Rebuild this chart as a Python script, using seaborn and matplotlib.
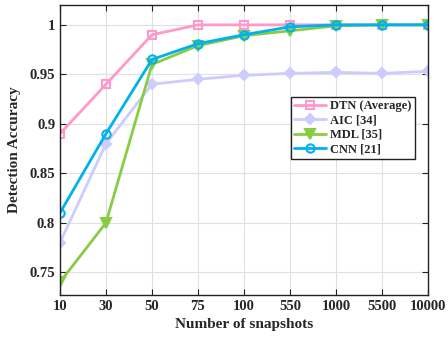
import pandas as pd
import matplotlib
matplotlib.use('Agg')
import matplotlib.pyplot as plt
import seaborn as sns

snapshots = ['10', '30', '50', '75', '100', '550', '1000', '5500', '10000']
dtn = [0.89, 0.94, 0.99, 1.0, 1.0, 1.0, 1.0, 1.0, 1.0]
aic = [0.78, 0.88, 0.94, 0.945, 0.949, 0.951, 0.952, 0.951, 0.953]
mdl = [0.74, 0.80, 0.96, 0.979, 0.989, 0.994, 0.999, 1.0, 1.0]
cnn = [0.81, 0.89, 0.965, 0.981, 0.990, 0.998, 1.0, 1.0, 1.0]

series = {'DTN (Average)': dtn, 'AIC [34]': aic, 'MDL [35]': mdl, 'CNN [21]': cnn}
colors = {'DTN (Average)': '#ff99cc', 'AIC [34]': '#ccccff', 'MDL [35]': '#88cc44', 'CNN [21]': '#00b0f0'}
markers = {'DTN (Average)': 's', 'AIC [34]': 'D', 'MDL [35]': 'v', 'CNN [21]': 'o'}
filled = {'DTN (Average)': False, 'AIC [34]': True, 'MDL [35]': True, 'CNN [21]': False}
msize = {'DTN (Average)': 6, 'AIC [34]': 5, 'MDL [35]': 7, 'CNN [21]': 6}

rows = []
for name, vals in series.items():
    for i, v in enumerate(vals):
        rows.append({'pos': i, 'acc': v, 'method': name})
df = pd.DataFrame(rows)

sns.set_style('whitegrid')
plt.rcParams['font.family'] = ['Liberation Serif', 'DejaVu Serif']
plt.rcParams['font.weight'] = 'bold'

fig, ax = plt.subplots(figsize=(4.48, 3.39), dpi=100)
fig.subplots_adjust(left=0.134, right=0.955, top=0.985, bottom=0.13)

for name in series:
    sub = df[df['method'] == name]
    sns.lineplot(data=sub, x='pos', y='acc', ax=ax, color=colors[name], marker=markers[name],
                 markersize=msize[name], linewidth=2, label=name,
                 markerfacecolor=colors[name] if filled[name] else 'none',
                 markeredgecolor=colors[name], markeredgewidth=1.5)

ax.set_xlim(0, len(snapshots) - 1)
ax.set_ylim(0.727, 1.02)
ax.set_xticks(range(len(snapshots)))
ax.set_xticklabels(snapshots)
ax.set_yticks([0.75, 0.8, 0.85, 0.9, 0.95, 1.0])
ax.set_yticklabels(['0.75', '0.8', '0.85', '0.9', '0.95', '1'])
ax.tick_params(axis='both', direction='in', length=4, labelsize=10.5, color='#222222',
               right=True, top=True, left=True, bottom=True)
for lbl in ax.get_xticklabels() + ax.get_yticklabels():
    lbl.set_fontweight('bold')
ax.grid(True, color='#e0e0e0', linewidth=0.8)
for sp in ax.spines.values():
    sp.set_color('#222222')
    sp.set_linewidth(1.0)

ax.set_xlabel('Number of snapshots', fontsize=11, fontweight='bold', labelpad=4)
ax.set_ylabel('Detection Accuracy', fontsize=11, fontweight='bold', labelpad=6)

leg = ax.legend(loc='upper left', bbox_to_anchor=(0.61, 0.705), fontsize=9, frameon=True,
                fancybox=False, edgecolor='#222222', framealpha=1, handlelength=2.6,
                borderpad=0.25, labelspacing=0.2, handletextpad=0.3)
leg.get_frame().set_linewidth(1.0)
for t in leg.get_texts():
    t.set_fontweight('bold')

fig.savefig('out.png', dpi=100)
